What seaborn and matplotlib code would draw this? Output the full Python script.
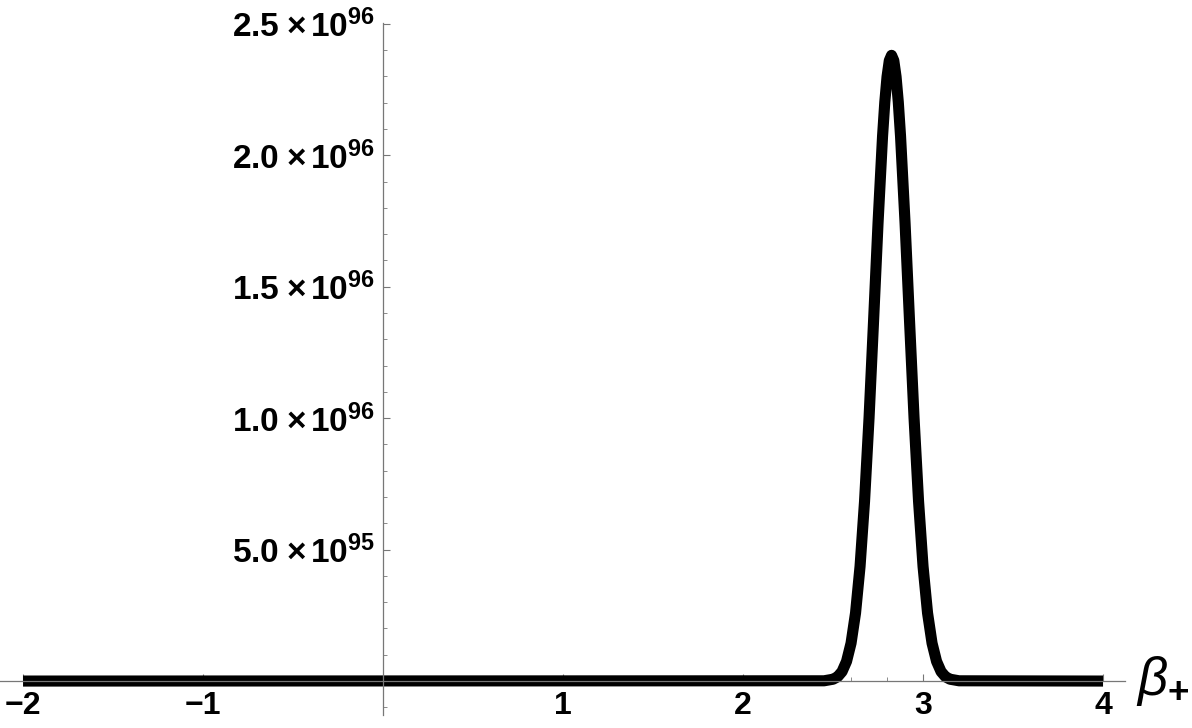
import matplotlib
matplotlib.use('Agg')
import matplotlib.pyplot as plt
import seaborn as sns
from matplotlib.ticker import MultipleLocator

# values (y in units of 1e96)
beta_vals = [-2.0, 2.45, 2.5, 2.525, 2.55, 2.575, 2.6, 2.625, 2.65, 2.675, 2.7,
             2.725, 2.75, 2.775, 2.7875, 2.8, 2.8125, 2.825, 2.8375, 2.85, 2.8625,
             2.875, 2.9, 2.925, 2.95, 2.975, 3.0, 3.025, 3.05, 3.075, 3.1, 3.125,
             3.15, 3.2, 4.0]
psi_vals = [0.0, 0.001, 0.007, 0.016, 0.036, 0.075, 0.144, 0.259, 0.436, 0.684, 1.001,
            1.368, 1.743, 2.072, 2.202, 2.299, 2.360, 2.380, 2.360, 2.299, 2.202,
            2.072, 1.743, 1.368, 1.001, 0.684, 0.436, 0.259, 0.144, 0.075, 0.036, 0.016,
            0.007, 0.001, 0.0]

x_ticks = [-2, -1, 1, 2, 3, 4]
x_tick_labels = ['\u22122', '\u22121', '1', '2', '3', '4']
y_ticks = [0.5, 1.0, 1.5, 2.0, 2.5]
y_tick_labels = [r'$\mathbf{5.0\;×\,10^{95}}$', r'$\mathbf{1.0\;×\,10^{96}}$',
                 r'$\mathbf{1.5\;×\,10^{96}}$', r'$\mathbf{2.0\;×\,10^{96}}$',
                 r'$\mathbf{2.5\;×\,10^{96}}$']

sns.set_style('white')
plt.rcParams['font.family'] = ['Liberation Sans', 'DejaVu Sans']
plt.rcParams['mathtext.fontset'] = 'custom'
plt.rcParams['mathtext.rm'] = 'Liberation Sans:bold'
plt.rcParams['mathtext.bf'] = 'Liberation Sans:bold'
plt.rcParams['mathtext.it'] = 'Liberation Sans:italic'
plt.rcParams['text.color'] = 'black'

fig = plt.figure(figsize=(11.92, 7.28), dpi=100)
ax = fig.add_axes([0, 0.0179, 0.9438, 0.9505])

sns.lineplot(x=beta_vals, y=psi_vals, ax=ax, color='black', linewidth=8,
             zorder=1, solid_capstyle='butt', solid_joinstyle='round')

ax.set_xlim(-2.128, 4.122)
ax.set_ylim(-0.129, 2.503)

axis_col = '#777777'
for s in ['top', 'right']:
    ax.spines[s].set_visible(False)
for s in ['left', 'bottom']:
    ax.spines[s].set_position(('data', 0))
    ax.spines[s].set_color(axis_col)
    ax.spines[s].set_linewidth(0.9)
    ax.spines[s].set_zorder(3)

ax.set_xticks(x_ticks)
ax.set_xticklabels(x_tick_labels, fontweight='bold', fontsize=23)
ax.set_yticks(y_ticks)
ax.set_yticklabels(y_tick_labels, fontsize=24)
ax.xaxis.set_minor_locator(MultipleLocator(0.2))
ax.yaxis.set_minor_locator(MultipleLocator(0.1))

ax.tick_params(which='both', bottom=True, left=True, labelcolor='black')
ax.tick_params(axis='x', which='major', direction='in', length=5, width=0.8,
               color=axis_col, pad=7)
ax.tick_params(axis='x', which='minor', direction='in', length=3, width=0.6,
               color=axis_col)
ax.tick_params(axis='y', which='major', direction='in', length=5, width=0.8,
               color=axis_col, pad=6)
ax.tick_params(axis='y', which='minor', direction='in', length=3, width=0.6,
               color=axis_col)

ax.set_xlabel('')
ax.set_ylabel('')
ax.annotate(r'$\beta_{+}$', xy=(1, 0), xycoords=('axes fraction', 'data'),
            xytext=(8, 0), textcoords='offset points', ha='left', va='center',
            fontsize=38, color='black')

fig.savefig('out.png', dpi=100)
